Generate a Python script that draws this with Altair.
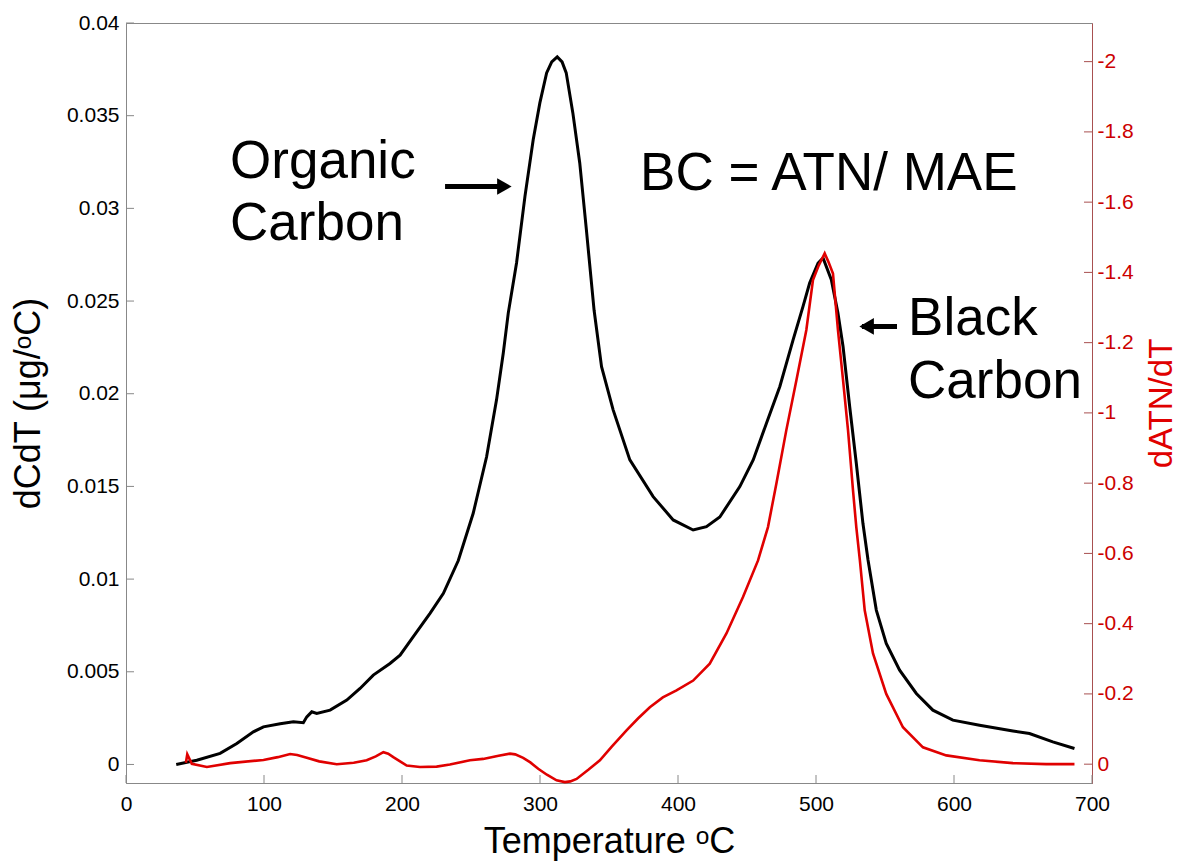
import altair as alt
import pandas as pd

# Carbon evolution rate (left axis), temperature in degC
oc_temp = [36.4, 51.3, 68.2, 80.3, 92.3, 99.6, 111.7, 121.3, 128.5, 131.0, 134.6, 138.2,
           147.9, 160.0, 169.6, 179.2, 191.3, 198.6, 208.2, 220.3, 230.0, 240.8, 251.6,
           261.3, 268.5, 273.4, 277.0, 283.0, 289.1, 295.1, 299.9, 304.8, 308.5, 312.5,
           316.0, 319.0, 323.8, 328.8, 333.6, 339.2, 344.6, 353.0, 365.1, 382.0, 396.5,
           411.0, 420.6, 430.3, 444.8, 454.5, 464.1, 473.8, 483.4, 490.6, 495.4, 501.5,
           505.1, 511.1, 515.9, 519.6, 524.4, 529.2, 534.0, 537.7, 543.7, 550.9, 560.6,
           572.7, 584.7, 599.2, 618.5, 642.7, 654.7, 671.6, 687.3]
oc_dcdt = [0.0, 0.00023, 0.0006, 0.00113, 0.00176, 0.00203, 0.0022, 0.0023, 0.00225,
           0.00257, 0.00284, 0.00275, 0.00293, 0.00347, 0.0041, 0.00482, 0.00545, 0.0059,
           0.00689, 0.00815, 0.00923, 0.0110, 0.01355, 0.0166, 0.01967, 0.0222, 0.02435,
           0.02705, 0.03065, 0.03371, 0.03569, 0.03731, 0.0379, 0.03817, 0.0379, 0.03731,
           0.03515, 0.03245, 0.02885, 0.0245, 0.02146, 0.01913, 0.01643, 0.01445, 0.01319,
           0.01265, 0.01283, 0.01335, 0.01499, 0.01643, 0.01841, 0.02039, 0.02291, 0.02471,
           0.02597, 0.02705, 0.02732, 0.02615, 0.02435, 0.02255, 0.01931, 0.01625, 0.01301,
           0.01103, 0.00833, 0.00653, 0.00509, 0.00383, 0.00293, 0.00239, 0.00212, 0.00181,
           0.00167, 0.00122, 0.00086]

# Attenuation derivative (right axis)
atn_temp = [43.4, 44.4, 47.7, 58.6, 75.5, 99.6, 110.0, 118.9, 124.0, 131.0, 140.0, 152.7,
            165.0, 174.4, 181.0, 186.5, 190.0, 193.7, 198.6, 203.4, 213.0, 225.1, 234.7,
            249.2, 258.8, 270.0, 278.2, 282.0, 287.8, 293.0, 298.7, 305.0, 312.0, 318.0,
            322.0, 326.5, 335.0, 343.4, 352.0, 362.7, 371.0, 379.6, 389.0, 398.9, 411.0,
            423.0, 435.1, 447.1, 458.0, 465.2, 471.3, 478.5, 485.8, 493.0, 497.8, 502.0,
            506.3, 509.0, 512.3, 515.9, 519.6, 523.2, 526.8, 529.2, 531.8, 535.3, 541.3,
            550.9, 563.0, 577.5, 594.4, 618.5, 642.7, 666.8, 687.3]
atn_rate = [-0.004, -0.028, -0.001, 0.008, -0.003, -0.012, -0.02, -0.029, -0.026, -0.018,
            -0.008, 0.0, -0.004, -0.011, -0.022, -0.034, -0.03, -0.02, -0.008, 0.004, 0.008,
            0.007, 0.001, -0.011, -0.015, -0.024, -0.030, -0.028, -0.018, -0.005, 0.013,
            0.030, 0.046, 0.051, 0.049, 0.042, 0.016, -0.011, -0.05, -0.096, -0.13, -0.162,
            -0.19, -0.21, -0.238, -0.286, -0.372, -0.476, -0.58, -0.675, -0.799, -0.951,
            -1.093, -1.236, -1.378, -1.42, -1.454, -1.43, -1.397, -1.236, -1.093, -0.951,
            -0.78, -0.675, -0.58, -0.438, -0.315, -0.2, -0.105, -0.048, -0.025, -0.011,
            -0.003, 0.0, 0.0]

x_ticks = [0, 100, 200, 300, 400, 500, 600, 700]
left_ticks = [0, 0.005, 0.01, 0.015, 0.02, 0.025, 0.03, 0.035, 0.04]
right_ticks = [0, -0.2, -0.4, -0.6, -0.8, -1, -1.2, -1.4, -1.6, -1.8, -2]

# Annotations, placed in data units
note_text = ["Organic", "Carbon", "BC = ATN/ MAE", "Black", "Carbon"]
note_temp = [75.4, 75.4, 372.5, 566.7, 566.7]
note_val = [0.03164, 0.02830, 0.03099, 0.02317, 0.01977]

arrow_from = [231.2, 558.7]
arrow_to = [274.6, 533.3]
arrow_val = [0.03118, 0.02363]
head_temp = [274.2, 536.7]
head_shape = ["triangle-right", "triangle-left"]

W, H = 966, 760
FONT = "Liberation Sans, Arial, Helvetica, sans-serif"
GRAY = "#888888"
RED = "#e00000"
RED_AXIS = "#a85050"
RED_LABEL = "#cc0000"

oc = pd.DataFrame({"T": oc_temp, "v": oc_dcdt})
atn = pd.DataFrame({"T": atn_temp, "r": atn_rate})
notes = pd.DataFrame({"T": note_temp, "v": note_val, "label": note_text})
arrows = pd.DataFrame({"T1": arrow_from, "T2": arrow_to, "v": arrow_val,
                       "H": head_temp, "shape": head_shape})
xt = pd.DataFrame({"T": x_ticks})
lt = pd.DataFrame({"v": left_ticks})
rt = pd.DataFrame({"r": right_ticks})

# Every layer carries an explicit domain, so independent y scales stay aligned
XS = dict(domain=[0, 700], nice=False, zero=False)
YL = dict(domain=[-0.001, 0.04], nice=False, zero=False)
YR = dict(domain=[-2.110, 0.0536], nice=False, zero=False, reverse=True)

# One shared x axis definition, repeated on every layer so the merged axis survives
X_AXIS = dict(values=x_ticks, title="Temperature ᵒC", labelExpr="'' + datum.value",
              labelFlush=False, labelPadding=10, titlePadding=10)


def xenc(field):
    return alt.X(field, type="quantitative", scale=alt.Scale(**XS), axis=alt.Axis(**X_AXIS))


black_line = alt.Chart(oc).mark_line(color="black", strokeWidth=3).encode(
    x=xenc("T"),
    y=alt.Y("v:Q", scale=alt.Scale(**YL),
            axis=alt.Axis(orient="left", values=left_ticks, title="dCdT (μg/ᵒC)",
                          labelExpr="'' + datum.value", labelFlush=False,
                          labelPadding=7, titlePadding=19)),
)

red_line = alt.Chart(atn).mark_line(color=RED, strokeWidth=2.6).encode(
    x=xenc("T"),
    y=alt.Y("r:Q", scale=alt.Scale(**YR),
            axis=alt.Axis(orient="right", values=right_ticks, title="dATN/dT",
                          labelExpr="'' + datum.value", labelFlush=False,
                          labelColor=RED_LABEL, domainColor=RED_AXIS, labelPadding=5,
                          titleColor=RED, titleFontSize=33, titleAngle=270,
                          titleBaseline="top", titlePadding=12)),
)

left_tick_marks = alt.Chart(lt).mark_rule(color=GRAY, strokeWidth=1).encode(
    x=alt.value(0), x2=alt.value(8),
    y=alt.Y("v:Q", scale=alt.Scale(**YL), axis=None),
)

right_tick_marks = alt.Chart(rt).mark_rule(color=RED_AXIS, strokeWidth=1).encode(
    x=alt.value(W - 8), x2=alt.value(W),
    y=alt.Y("r:Q", scale=alt.Scale(**YR), axis=None),
)

bottom_tick_marks = alt.Chart(xt).mark_rule(color=GRAY, strokeWidth=1).encode(
    x=xenc("T"),
    y=alt.value(H - 8), y2=alt.value(H),
)

arrow_shafts = alt.Chart(arrows).mark_rule(color="black", strokeWidth=5).encode(
    x=xenc("T1"),
    x2="T2:Q",
    y=alt.Y("v:Q", scale=alt.Scale(**YL), axis=None),
)

arrow_heads = alt.Chart(arrows).mark_point(
    filled=True, color="black", size=280, opacity=1, strokeWidth=0
).encode(
    x=xenc("H"),
    y=alt.Y("v:Q", scale=alt.Scale(**YL), axis=None),
    shape=alt.Shape("shape:N", scale=None, legend=None),
)

note_marks = alt.Chart(notes).mark_text(
    align="left", baseline="alphabetic", font=FONT, fontSize=53, color="black"
).encode(
    x=xenc("T"),
    y=alt.Y("v:Q", scale=alt.Scale(**YL), axis=None),
    text="label:N",
)

chart = alt.layer(
    black_line, red_line, left_tick_marks, right_tick_marks, bottom_tick_marks,
    arrow_shafts, arrow_heads, note_marks,
).resolve_scale(y="independent").properties(
    width=W, height=H,
    autosize=alt.AutoSizeParams(type="none"),
    padding={"left": 126, "top": 23, "right": 88, "bottom": 82},
    background="white",
).configure_view(
    stroke=GRAY, strokeWidth=1
).configure_axis(
    ticks=False, grid=False, domainColor=GRAY, labelFont=FONT, labelFontSize=21,
    labelColor="black", titleFont=FONT, titleFontSize=36, titleFontWeight="normal",
    titleColor="black",
)

chart.save("out.html", embed_options={"renderer": "svg", "actions": False})
